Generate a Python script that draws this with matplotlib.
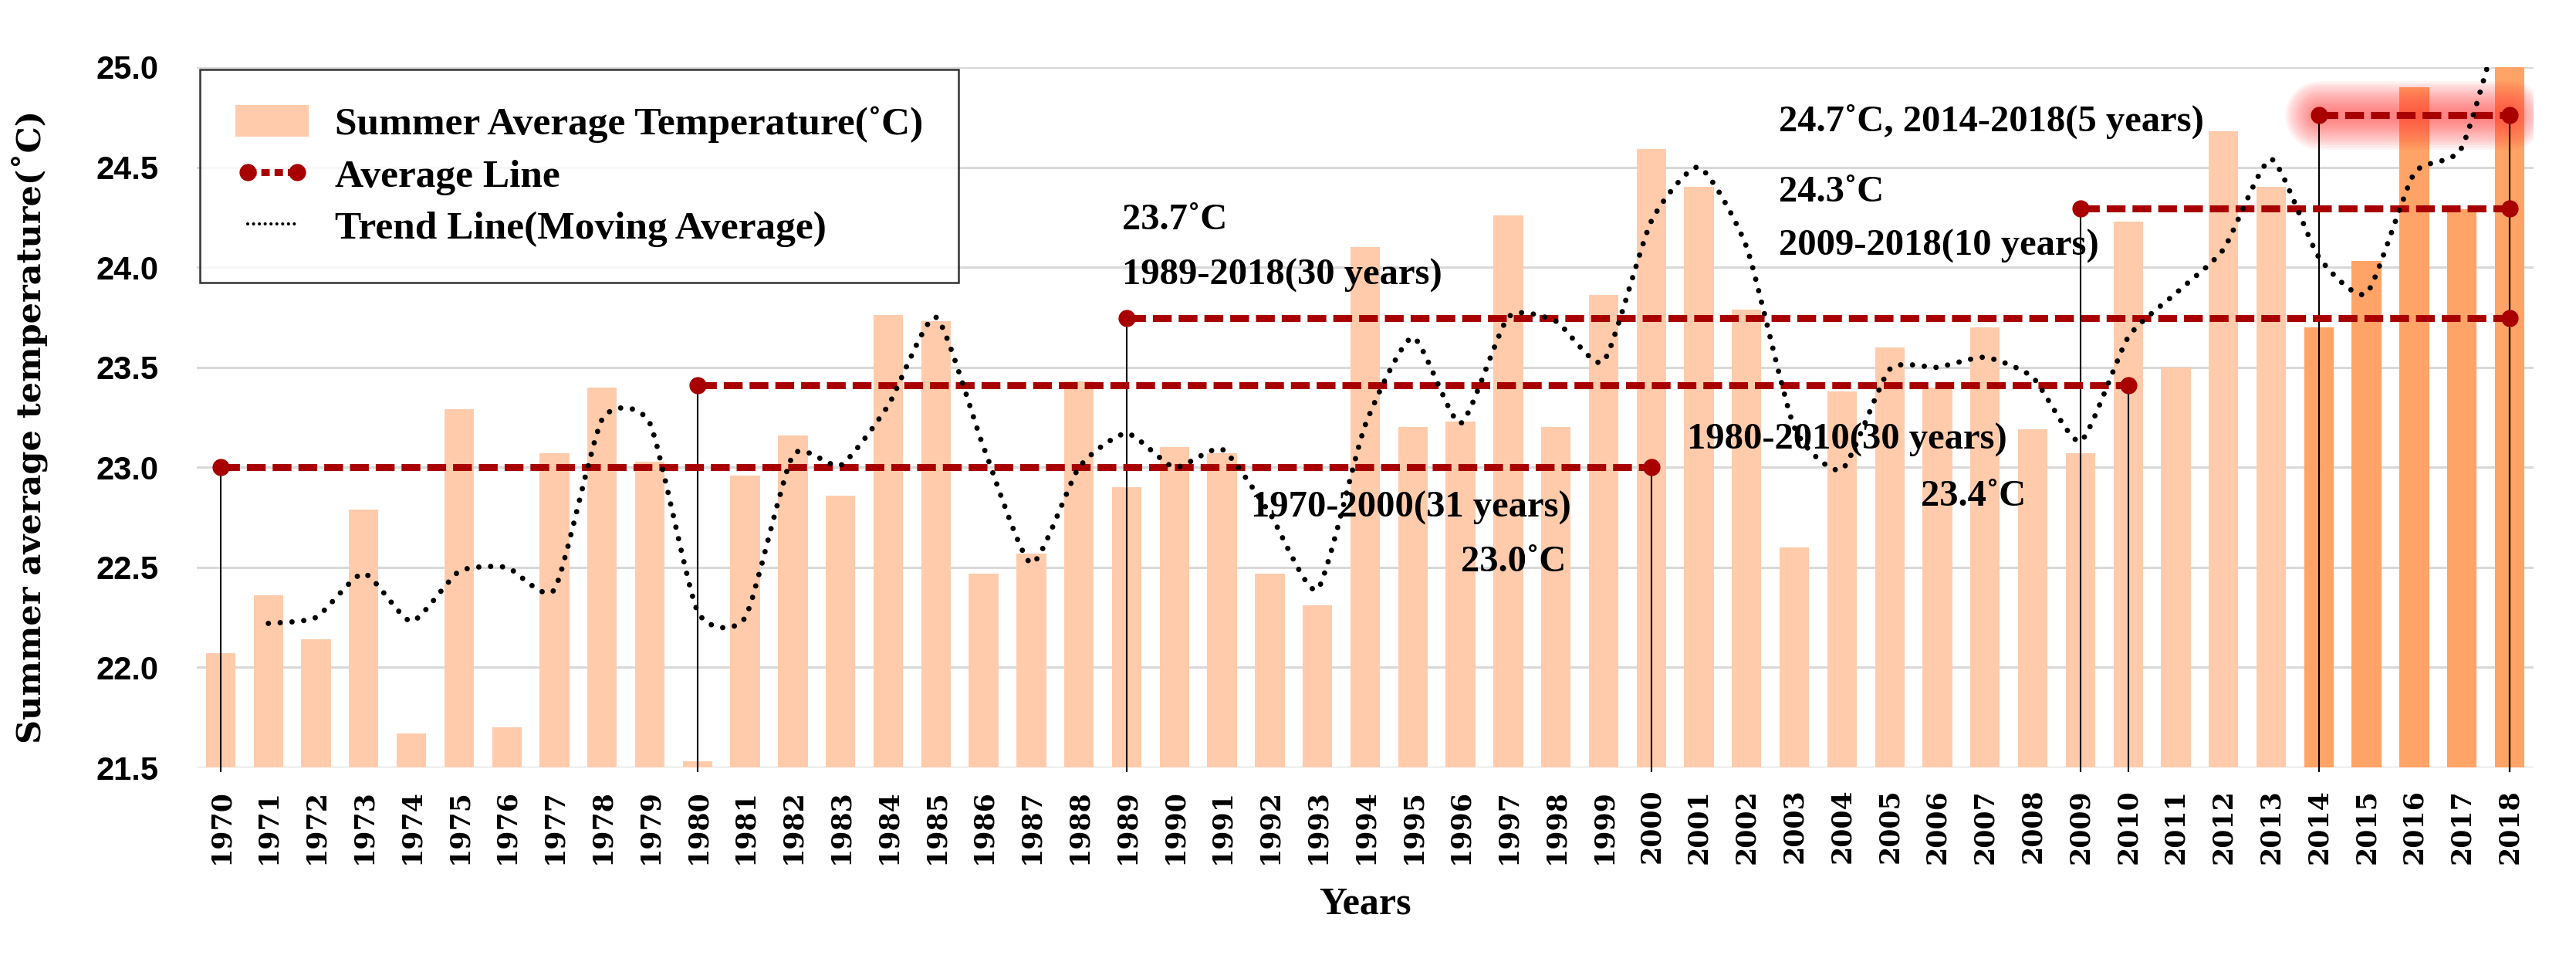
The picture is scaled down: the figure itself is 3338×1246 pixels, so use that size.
import matplotlib
matplotlib.use('agg')
import matplotlib.pyplot as plt
from matplotlib.path import Path
from matplotlib.patches import PathPatch, Patch
from matplotlib.lines import Line2D
import numpy as np

# summer average temperature per year (2018 runs off the top of the axis)
years = list(range(1970, 2019))
temps = [22.07, 22.36, 22.14, 22.79, 21.67, 23.29, 21.70, 23.07, 23.40, 23.03,
         21.53, 22.96, 23.16, 22.86, 23.76, 23.73, 22.47, 22.57, 23.43, 22.90,
         23.10, 23.07, 22.47, 22.31, 24.10, 23.20, 23.23, 24.26, 23.20, 23.86,
         24.59, 24.40, 23.79, 22.60, 23.38, 23.60, 23.40, 23.70, 23.19, 23.07,
         24.23, 23.50, 24.68, 24.40, 23.70, 24.03, 24.90, 24.29, 26.50]
recent_years = [2014, 2015, 2016, 2017, 2018]

# trend line (moving average) points, 1971-2018
trend_years = list(range(1971, 2019))
trend_vals = [22.22, 22.25, 22.47, 22.23, 22.48, 22.50, 22.39, 23.24, 23.22,
              22.28, 22.25, 23.06, 23.01, 23.31, 23.75, 23.10, 22.52, 23.00,
              23.17, 23.00, 23.09, 22.77, 22.39, 23.21, 23.65, 23.22, 23.75,
              23.73, 23.53, 24.23, 24.50, 24.10, 23.20, 22.99, 23.49, 23.50,
              23.55, 23.45, 23.13, 23.65, 23.87, 24.09, 24.54, 24.05, 23.87,
              24.47, 24.60, 25.40]

# average lines
avg_start = [1970, 1980, 1989, 2009, 2014]
avg_end = [2000, 2010, 2018, 2018, 2018]
avg_vals = [23.00, 23.41, 23.745, 24.295, 24.76]

notes = ['23.7˚C', '1989-2018(30 years)', '24.7˚C, 2014-2018(5 years)', '24.3˚C',
         '2009-2018(10 years)', '1970-2000(31 years)', '23.0˚C',
         '1980-2010(30 years)', '23.4˚C']
note_x = [1988.9, 1988.9, 2002.67, 2002.67, 2002.67, 1991.6, 1996.0, 2000.75, 2005.66]
note_y = [24.19, 23.915, 24.68, 24.33, 24.06, 22.75, 22.48, 23.09, 22.81]

light = '#FFCBAB'
dark = '#FFA366'
red = '#A80000'
serif = ['Liberation Serif', 'DejaVu Serif']

fig = plt.figure(figsize=(33.38, 12.46), dpi=100)
ax = fig.add_axes([0.0764, 0.2022, 0.9071, 0.7280])

colors = [dark if y in recent_years else light for y in years]
ax.bar(years, temps, width=0.62, color=colors, bottom=0, zorder=2)

ax.set_xlim(1969.5, 2018.5)
ax.set_ylim(21.5, 25.0)
ax.set_yticks(np.arange(21.5, 25.01, 0.5))
ax.set_yticklabels(['%.1f' % v for v in np.arange(21.5, 25.01, 0.5)],
                   family=['Liberation Sans Narrow', 'Liberation Sans'], fontweight='bold', fontsize=30)
ax.set_xticks(years)
ax.set_xticklabels([str(y) for y in years], rotation=90, family=['DejaVu Serif'],
                   fontweight='bold', fontsize=25)
ax.tick_params(axis='y', length=0, pad=36)
ax.tick_params(axis='x', length=0, pad=20)
ax.grid(axis='y', color='#D9D9D9', lw=2.2, zorder=0)
ax.set_axisbelow(True)
for s in ax.spines.values():
    s.set_visible(False)

# soft glow behind the 5-year line
for lw in range(64, 6, -4):
    ax.plot([2014, 2018], [24.76, 24.76], color='#FF3030', lw=lw, alpha=0.055,
            solid_capstyle='round', zorder=3)

# verticals from the average line end points down to the axis
for x0, x1, v in zip(avg_start, avg_end, avg_vals):
    for xx in (x0, x1):
        ax.plot([xx, xx], [21.48, v], color='black', lw=1.5, zorder=4, clip_on=False)

for x0, x1, v in zip(avg_start, avg_end, avg_vals):
    ax.plot([x0, x1], [v, v], color=red, lw=6.5, linestyle=(0, (2.7, 1.0)),
            marker='o', markersize=15, zorder=5)

# smoothed dotted trend curve
pts = np.column_stack([trend_years, trend_vals])
verts = [pts[0]]
codes = [Path.MOVETO]
n = len(pts)
k = 1 / 10.0
for i in range(n - 1):
    p0 = pts[i - 1] if i > 0 else pts[i]
    p1 = pts[i]
    p2 = pts[i + 1]
    p3 = pts[i + 2] if i + 2 < n else pts[i + 1]
    verts += [p1 + (p2 - p0) * k, p2 - (p3 - p1) * k, p2]
    codes += [Path.CURVE4] * 3
trend = PathPatch(Path(verts, codes), fill=False, edgecolor='black', lw=5,
                  linestyle=(0, (0.01, 2.2)), zorder=7)
trend.set_capstyle('round')
ax.add_patch(trend)

for t, x, y in zip(notes, note_x, note_y):
    ax.text(x, y, t, family=serif, fontweight='bold', fontsize=35, zorder=6)

handles = [Patch(facecolor=light, edgecolor='none'),
           Line2D([], [], color=red, lw=6.5, linestyle=(0, (1.2, 0.7)), marker='o', markersize=15),
           Line2D([], [], color='black', lw=3, linestyle=(0, (0.01, 1.8)), dash_capstyle='round')]
labels = ['Summer Average Temperature(˚C)', 'Average Line', 'Trend Line(Moving Average)']
leg = ax.legend(handles, labels, loc='upper left', bbox_to_anchor=(0.0013, 0.9967),
                borderaxespad=0, frameon=True, fancybox=False, numpoints=2,
                prop={'family': serif, 'weight': 'bold', 'size': 37},
                borderpad=0.9, handlelength=1.85, handleheight=0.85, handletextpad=0.65,
                labelspacing=0.35)
leg.get_frame().set_edgecolor('black')
leg.get_frame().set_linewidth(1.8)
leg.set_zorder(8)

fig.text(0.0114, 0.556, 'Summer average temperature(˚C)', rotation=90, ha='center', va='center',
         family=['DejaVu Serif'], fontweight='bold', fontsize=31)
fig.text(0.53, 1 - 1171 / 1246, 'Years', ha='center', va='center', family=serif,
         fontweight='bold', fontsize=36)

fig.savefig('out.png', dpi=100)
